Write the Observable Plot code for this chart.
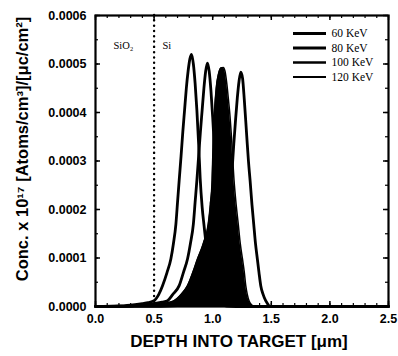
<!DOCTYPE html>
<html>
<head>
<meta charset="utf-8">
<script src="https://cdn.jsdelivr.net/npm/d3@7"></script>
<script src="https://cdn.jsdelivr.net/npm/@observablehq/plot@0.6"></script>
<style>
  html, body { margin: 0; padding: 0; background: white; }
</style>
</head>
<body>
<div id="chart"></div>
<script>
// ---- data (concentration in units of 1e-4) ----
const energies = ["60 KeV", "80 KeV", "100 KeV", "120 KeV"];
const depth60 = [0, 0.2, 0.3, 0.4, 0.45, 0.5, 0.54, 0.572, 0.61, 0.643, 0.665, 0.686, 0.70, 0.714, 0.73, 0.745, 0.76, 0.775, 0.79, 0.805, 0.82, 0.835, 0.85, 0.865, 0.88, 0.893, 0.91, 0.927, 0.945, 0.97, 1.0, 1.03, 1.07, 1.12, 1.2, 2.5];
const conc60  = [0, 0.01, 0.03, 0.06, 0.08, 0.12, 0.25, 0.43, 0.7, 0.98, 1.3, 1.7, 2.15, 2.6, 3.1, 3.6, 4.05, 4.5, 4.85, 5.1, 5.2, 5.0, 4.6, 4.05, 3.35, 2.65, 2.05, 1.65, 1.25, 0.8, 0.42, 0.18, 0.05, 0.01, 0, 0];
const depth80 = [0, 0.3, 0.4, 0.5, 0.57, 0.615, 0.66, 0.714, 0.75, 0.785, 0.81, 0.835, 0.85, 0.865, 0.88, 0.895, 0.91, 0.925, 0.94, 0.955, 0.97, 0.985, 1.0, 1.015, 1.03, 1.045, 1.062, 1.08, 1.105, 1.135, 1.165, 1.2, 1.25, 1.32, 2.5];
const conc80  = [0, 0.01, 0.03, 0.06, 0.09, 0.12, 0.25, 0.43, 0.7, 0.98, 1.3, 1.7, 2.15, 2.6, 3.1, 3.6, 4.05, 4.5, 4.85, 5.02, 4.85, 4.45, 3.9, 3.25, 2.55, 2.0, 1.6, 1.2, 0.77, 0.4, 0.17, 0.05, 0.01, 0, 0];
const depth100 = [0, 0.35, 0.45, 0.55, 0.62, 0.671, 0.73, 0.785, 0.83, 0.87, 0.92, 0.962, 0.98, 0.995, 1.005, 1.015, 1.03, 1.05, 1.07, 1.09, 1.105, 1.12, 1.135, 1.145, 1.16, 1.182, 1.2, 1.218, 1.235, 1.254, 1.27, 1.282, 1.295, 1.31, 1.33, 1.35, 2.5];
const conc100  = [0, 0.01, 0.03, 0.05, 0.08, 0.12, 0.25, 0.43, 0.7, 0.98, 1.3, 1.7, 2.1, 2.6, 3.5, 4.0, 4.5, 4.8, 4.92, 4.93, 4.85, 4.6, 4.25, 4.0, 3.5, 2.6, 2.1, 1.7, 1.3, 0.98, 0.7, 0.43, 0.25, 0.12, 0.04, 0, 0];
const depth120 = [0, 0.5, 0.7, 0.8, 0.9, 0.95, 1.0, 1.04, 1.08, 1.11, 1.13, 1.15, 1.165, 1.18, 1.195, 1.21, 1.225, 1.24, 1.255, 1.27, 1.29, 1.305, 1.319, 1.335, 1.35, 1.365, 1.381, 1.395, 1.41, 1.43, 1.452, 1.47, 1.49, 2.5];
const conc120  = [0, 0.005, 0.02, 0.04, 0.1, 0.18, 0.35, 0.6, 0.98, 1.4, 1.8, 2.3, 2.8, 3.35, 3.85, 4.3, 4.65, 4.83, 4.7, 4.25, 3.53, 3.0, 2.6, 2.1, 1.7, 1.3, 0.98, 0.7, 0.43, 0.25, 0.12, 0.05, 0, 0];
const xTicks = [0, 0.5, 1.0, 1.5, 2.0, 2.5];
const yTicks = [0, 0.0001, 0.0002, 0.0003, 0.0004, 0.0005, 0.0006];
const xTitle = "DEPTH INTO TARGET [μm]";
const yTitle = "Conc. x 10¹⁷ [Atoms/cm³]/[μc/cm²]";
const regionLabels = ["SiO₂", "Si"];
const interfaceDepth = 0.5;

// ---- build tables ----
const unit = 1e-4;
const toRows = (d, c) => d.map((x, i) => ({x, y: c[i] * unit}));
const series = [toRows(depth60, conc60), toRows(depth80, conc80), toRows(depth100, conc100), toRows(depth120, conc120)];

// ---- layout ----
const W = 398, H = 356, mL = 95, mR = 10, mT = 15, mB = 50;
const xDom = [0, 2.5], yDom = [0, 0.0006];
const pxX = (xDom[1] - xDom[0]) / (W - mL - mR);
const pxY = (yDom[1] - yDom[0]) / (H - mT - mB);
const dataX = px => xDom[0] + (px - mL) * pxX;
const dataY = py => yDom[1] - (py - mT) * pxY;

const xMinor = d3.range(0, 2.5001, 0.1);
const yMinor = d3.range(0, 0.000601, 0.00005);

const tickMarks = [];
function xTickRules(vals, len, w) {
  tickMarks.push(Plot.ruleX(vals, {x: d => d, y1: yDom[0], y2: yDom[0] + len * pxY, strokeWidth: w}));
  tickMarks.push(Plot.ruleX(vals, {x: d => d, y1: yDom[1], y2: yDom[1] - len * pxY, strokeWidth: w}));
}
function yTickRules(vals, len, w) {
  tickMarks.push(Plot.ruleY(vals, {y: d => d, x1: xDom[0], x2: xDom[0] + len * pxX, strokeWidth: w}));
  tickMarks.push(Plot.ruleY(vals, {y: d => d, x1: xDom[1], x2: xDom[1] - len * pxX, strokeWidth: w}));
}
xTickRules(xTicks, 5, 1.5);
xTickRules(xMinor, 3, 1.2);
yTickRules(yTicks, 5, 1.5);
yTickRules(yMinor, 3, 1.2);

const serif = "'Liberation Serif', 'Times New Roman', serif";

// legend
const legendMarks = [];
const legendWidths = [3.2, 2.8, 2.5, 2.2];
energies.forEach((e, i) => {
  const yv = dataY(33 + i * 14.5);
  legendMarks.push(Plot.ruleY([yv], {x1: dataX(293), x2: dataX(326), strokeWidth: legendWidths[i]}));
  legendMarks.push(Plot.text([e], {x: dataX(331), y: yv, text: d => d, textAnchor: "start", fontFamily: serif, fontWeight: "normal", fontSize: 11.5}));
});

const chart = Plot.plot({
  width: W, height: H,
  marginLeft: mL, marginRight: mR, marginTop: mT, marginBottom: mB,
  x: {domain: xDom},
  y: {domain: yDom},
  style: {fontFamily: "'Liberation Sans', Arial, sans-serif", fontWeight: "bold", background: "white", color: "black"},
  marks: [
    Plot.ruleX([interfaceDepth], {x: d => d, stroke: "black", strokeWidth: 2.4, strokeDasharray: "0.1,5.2", strokeLinecap: "round"}),
    Plot.areaY(series[2], {x: "x", y: "y", fill: "black", curve: "monotone-x"}),
    Plot.line(series[2], {x: "x", y: "y", stroke: "black", strokeWidth: 1.5, curve: "monotone-x"}),
    Plot.line(series[0], {x: "x", y: "y", stroke: "black", strokeWidth: 2.8, curve: "monotone-x"}),
    Plot.line(series[1], {x: "x", y: "y", stroke: "black", strokeWidth: 2.8, curve: "monotone-x"}),
    Plot.line(series[3], {x: "x", y: "y", stroke: "black", strokeWidth: 2.8, curve: "monotone-x"}),
    Plot.frame({stroke: "black", strokeWidth: 2.2}),
    ...tickMarks,
    Plot.axisX({ticks: xTicks, tickSize: 0, tickPadding: 8, tickFormat: d3.format(".1f"), fontSize: 12.5, label: null}),
    Plot.axisY({ticks: yTicks, tickSize: 0, tickPadding: 9, tickFormat: d3.format(".4f"), fontSize: 12.5, label: null}),
    Plot.text([xTitle], {frameAnchor: "bottom", dy: 40, dx: -3, text: d => d, fontSize: 17, fontWeight: "bold"}),
    Plot.text([yTitle], {frameAnchor: "left", textAnchor: "middle", rotate: -90, dx: -73, dy: -12, text: d => d, fontSize: 16.5, fontWeight: "bold"}),
    Plot.text([regionLabels[0]], {frameAnchor: "top-left", dx: 18, dy: 26, text: d => d, textAnchor: "start", fontFamily: serif, fontWeight: "normal", fontSize: 10.5}),
    Plot.text([regionLabels[1]], {frameAnchor: "top-left", dx: 67, dy: 26, text: d => d, textAnchor: "start", fontFamily: serif, fontWeight: "normal", fontSize: 10.5}),
    ...legendMarks
  ]
});
document.getElementById("chart").appendChild(chart);
</script>
</body>
</html>
